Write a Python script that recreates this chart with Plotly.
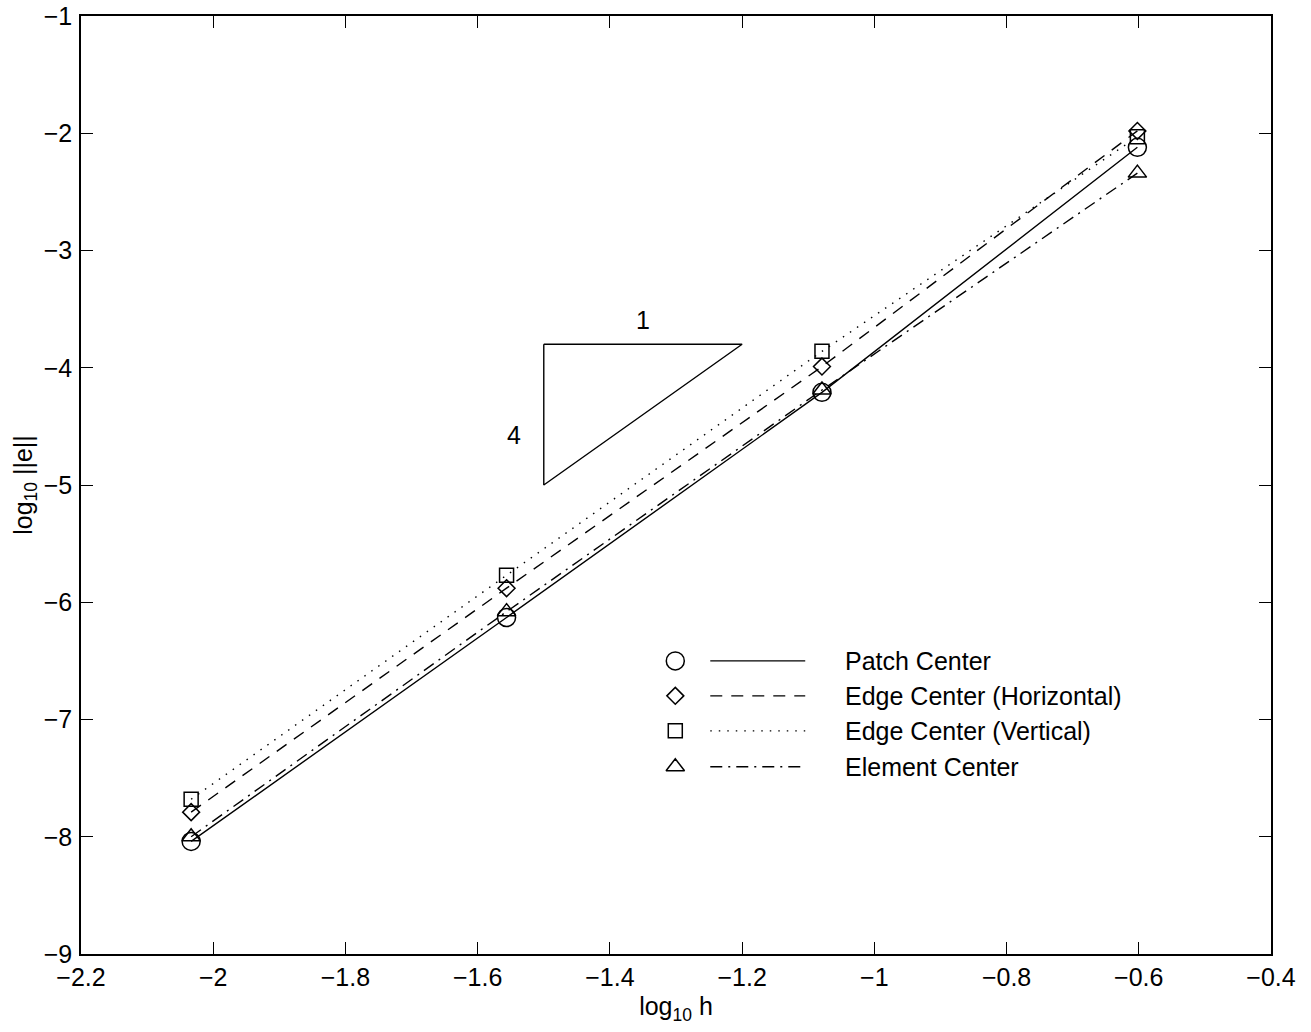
import plotly.graph_objects as go

# ---- data ----
log_h = [-2.0334, -1.5563, -1.0792, -0.6021]
patch_center = [-8.04, -6.13, -4.21, -2.12]
edge_horizontal = [-7.79, -5.88, -3.99, -1.98]
edge_vertical = [-7.68, -5.77, -3.86, -2.03]
element_center = [-8.00, -6.08, -4.19, -2.34]

series_names = ["Patch Center", "Edge Center (Horizontal)", "Edge Center (Vertical)", "Element Center"]
series_values = [patch_center, edge_horizontal, edge_vertical, element_center]

slope_tri_x = [-1.5, -1.2, -1.5, -1.5]
slope_tri_y = [-3.8, -3.8, -5.0, -3.8]
slope_labels = ["1", "4"]
slope_label_x = [-1.35, -1.545]
slope_label_y = [-3.62, -4.6]

x_ticks = [-2.2, -2.0, -1.8, -1.6, -1.4, -1.2, -1.0, -0.8, -0.6, -0.4]
y_ticks = [-1, -2, -3, -4, -5, -6, -7, -8, -9]

# ---- styles ----
symbols = ["circle-open", "diamond-open", "square-open", "triangle-up-open"]
msizes = [18, 13, 14, 16]
dashes = ["solid", "12px,9px", "1.5px,7px", "12px,6px,2px,6px"]
FONT = "Liberation Sans, Arial, Helvetica, sans-serif"
FS = 25

fig = go.Figure()

for name, vals, sym, ms, dash in zip(series_names, series_values, symbols, msizes, dashes):
    fig.add_trace(go.Scatter(
        x=log_h, y=vals, mode="lines+markers", name=name,
        line=dict(color="black", width=1.4, dash=dash),
        marker=dict(symbol=sym, size=ms, color="black", line=dict(width=1.5, color="black")),
        showlegend=False,
    ))

# slope triangle
fig.add_trace(go.Scatter(x=slope_tri_x, y=slope_tri_y, mode="lines",
                         line=dict(color="black", width=1.4), showlegend=False, hoverinfo="skip"))
fig.add_trace(go.Scatter(x=slope_label_x, y=slope_label_y, mode="text", text=slope_labels,
                         textfont=dict(family=FONT, size=FS, color="black"), showlegend=False))

# manual legend on an overlay axis (0..1 fractional coordinates)
leg_marker_x = 0.4994
leg_line_x0, leg_line_x1 = 0.5288, 0.6086
leg_text_x = 0.6405
leg_rows = [0.3125, 0.2752, 0.2379, 0.1996]
for name, sym, ms, dash, ry in zip(series_names, symbols, msizes, dashes, leg_rows):
    fig.add_trace(go.Scatter(x=[leg_marker_x], y=[ry], mode="markers", xaxis="x2", yaxis="y2",
                             marker=dict(symbol=sym, size=ms, color="black", line=dict(width=1.5, color="black")),
                             showlegend=False, hoverinfo="skip"))
    fig.add_trace(go.Scatter(x=[leg_line_x0, leg_line_x1], y=[ry, ry], mode="lines", xaxis="x2", yaxis="y2",
                             line=dict(color="black", width=1.4, dash=dash),
                             showlegend=False, hoverinfo="skip"))
    fig.add_annotation(x=leg_text_x, y=ry, xref="x2", yref="y2", text=name, showarrow=False,
                       xanchor="left", yanchor="middle", font=dict(family=FONT, size=FS, color="black"))

axis_common = dict(
    showgrid=False, zeroline=False, showline=True, linecolor="black", linewidth=1.5,
    mirror="ticks", ticks="inside", ticklen=12, tickwidth=1.2, tickcolor="black",
    tickfont=dict(family=FONT, size=FS, color="black"), automargin=False,
)

fig.update_layout(
    width=1311, height=1032,
    margin=dict(l=81, r=40, t=16, b=78),
    paper_bgcolor="white", plot_bgcolor="white",
    font=dict(family=FONT, size=FS, color="black"),
    xaxis=dict(range=[-2.2, -0.4], tickvals=x_ticks, ticklabelstandoff=0, **axis_common,
               title=dict(text="log<sub>10</sub> h", font=dict(family=FONT, size=FS), standoff=8)),
    yaxis=dict(range=[-9, -1], tickvals=y_ticks, ticklabelstandoff=2, **axis_common,
               title=dict(text="log<sub>10</sub> ||e||", font=dict(family=FONT, size=FS), standoff=4)),
    xaxis2=dict(range=[0, 1], overlaying="x", visible=False, fixedrange=True),
    yaxis2=dict(range=[0, 1], overlaying="y", visible=False, fixedrange=True),
    showlegend=False,
)

fig.write_html("out.html")
